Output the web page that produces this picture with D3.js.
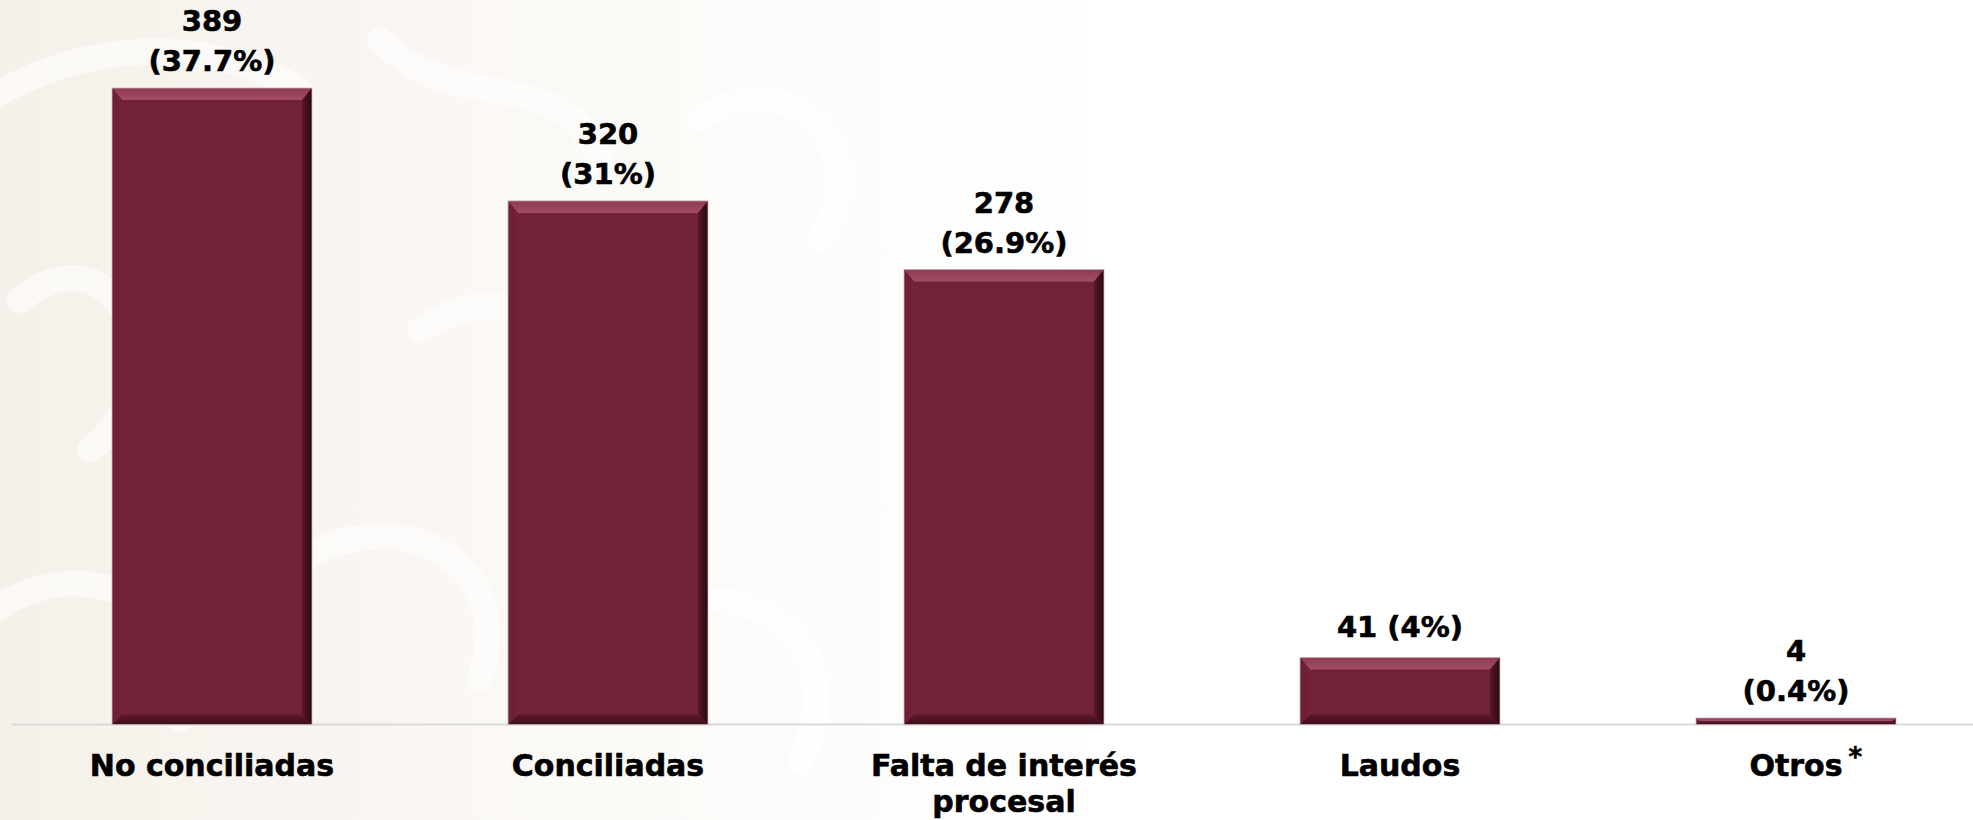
<!DOCTYPE html>
<html>
<head>
<meta charset="utf-8">
<script src="https://cdn.jsdelivr.net/npm/d3@7"></script>
<style>
  html, body { margin: 0; padding: 0; background: #ffffff; }
  svg { display: block; }
  text { font-family: "DejaVu Sans", sans-serif; font-weight: bold; fill: #000; stroke: #000; stroke-width: 0.6px; }
</style>
</head>
<body>
<script>
// ---- data ----
const categories = ["No conciliadas", "Conciliadas", "Falta de interés procesal", "Laudos", "Otros"];
const categoryLines = [["No conciliadas"], ["Conciliadas"], ["Falta de interés", "procesal"], ["Laudos"], ["Otros"]];
const categoryMarks = ["", "", "", "", "*"];
const values = [389, 320, 278, 41, 4];
const pctLabels = ["37.7%", "31%", "26.9%", "4%", "0.4%"];
const singleLineLabel = [false, false, false, true, false];

// ---- layout ----
const W = 1973, H = 820;
const baseY = 724.5, topY = 88;

const svg = d3.select("body").append("svg").attr("width", W).attr("height", H);
const defs = svg.append("defs");

// faint watermark-like background on the left
const bg = defs.append("linearGradient").attr("id", "bgGrad").attr("x1", 0).attr("x2", 1).attr("y1", 0).attr("y2", 0);
bg.append("stop").attr("offset", "0%").attr("stop-color", "#f5f0e9");
bg.append("stop").attr("offset", "50%").attr("stop-color", "#fbf9f6");
bg.append("stop").attr("offset", "100%").attr("stop-color", "#ffffff");
svg.append("rect").attr("x", 0).attr("y", 0).attr("width", 1100).attr("height", H).attr("fill", "url(#bgGrad)");
const wm = svg.append("g").attr("fill", "none").attr("stroke", "#ffffff").attr("stroke-opacity", 0.55).attr("stroke-linecap", "round");
[
  "M -40 120 C 60 40, 200 30, 300 90",
  "M 20 300 C 120 220, 180 380, 90 450",
  "M -20 620 C 80 540, 200 600, 180 720",
  "M 380 40 C 460 120, 560 60, 600 160",
  "M 420 330 C 520 260, 640 360, 560 460",
  "M 300 560 C 400 500, 520 560, 480 680",
  "M 700 120 C 780 60, 880 140, 820 240",
  "M 640 620 C 740 560, 860 640, 800 760"
].forEach(d => wm.append("path").attr("d", d).attr("stroke-width", 26));

// scales
const x = d3.scaleBand().domain(categories).range([14, 1994]).paddingInner(0.495).paddingOuter(0.2475);
const y = d3.scaleLinear().domain([0, d3.max(values)]).range([baseY, topY]);

// axis baseline
const axis = svg.append("g").attr("transform", `translate(0,${baseY})`)
  .call(d3.axisBottom(x).tickSize(0).tickFormat(""));
axis.select(".domain").attr("d", `M12,0H${W}`).attr("stroke", "#d9d9d9").attr("stroke-width", 2);

// gradients for bevels
function grad(id, x1, y1, x2, y2, c1, c2) {
  const g = defs.append("linearGradient").attr("id", id).attr("x1", x1).attr("y1", y1).attr("x2", x2).attr("y2", y2);
  g.append("stop").attr("offset", "0%").attr("stop-color", c1);
  g.append("stop").attr("offset", "100%").attr("stop-color", c2);
}
grad("gTop", 0, 0, 0, 1, "#8e3a52", "#a34d66");
grad("gRight", 0, 0, 1, 0, "#5a1628", "#2a0810");
grad("gBottom", 0, 0, 0, 1, "#5e1829", "#3e0e1a");
grad("gLeft", 0, 0, 1, 0, "#6c1e33", "#732238");

const fill = "#722238";
const bars = svg.append("g");
categories.forEach((c, i) => {
  const x0 = x(c), w = x.bandwidth();
  const y0 = y(values[i]), h = baseY - y0;
  const b = Math.min(12, h / 2), bs = Math.min(10, h / 2);
  const g = bars.append("g");
  g.append("rect").attr("x", x0).attr("y", y0).attr("width", w).attr("height", h).attr("fill", fill);
  g.append("path").attr("d", `M${x0},${y0}L${x0 + w},${y0}L${x0 + w - bs},${y0 + b}L${x0 + bs},${y0 + b}Z`).attr("fill", "url(#gTop)");
  g.append("path").attr("d", `M${x0 + w},${y0}L${x0 + w},${y0 + h}L${x0 + w - bs},${y0 + h - bs}L${x0 + w - bs},${y0 + b}Z`).attr("fill", "url(#gRight)");
  g.append("path").attr("d", `M${x0},${y0 + h}L${x0 + w},${y0 + h}L${x0 + w - bs},${y0 + h - bs}L${x0 + bs},${y0 + h - bs}Z`).attr("fill", "url(#gBottom)");
  g.append("path").attr("d", `M${x0},${y0}L${x0 + bs},${y0 + b}L${x0 + bs},${y0 + h - bs}L${x0},${y0 + h}Z`).attr("fill", "url(#gLeft)");
  g.append("rect").attr("x", x0).attr("y", y0).attr("width", w).attr("height", h)
    .attr("fill", "none").attr("stroke", "#c9b9bd").attr("stroke-width", 0.8);
});

// value labels
const labels = svg.append("g").attr("text-anchor", "middle").style("font-size", "29px");
categories.forEach((c, i) => {
  const cx = x(c) + x.bandwidth() / 2;
  const yt = y(values[i]);
  if (singleLineLabel[i]) {
    labels.append("text").attr("x", cx).attr("y", yt - 20).text(`${values[i]} (${pctLabels[i]})`);
  } else {
    labels.append("text").attr("x", cx).attr("y", yt - 57).text(values[i]);
    labels.append("text").attr("x", cx).attr("y", yt - 17).text(`(${pctLabels[i]})`);
  }
});

// category labels
const cats = svg.append("g").attr("text-anchor", "middle").style("font-size", "30px");
categories.forEach((c, i) => {
  const cx = x(c) + x.bandwidth() / 2;
  let last = null;
  categoryLines[i].forEach((ln, j) => {
    last = cats.append("text").attr("x", cx).attr("y", 776 + j * 36).text(ln);
  });
  if (categoryMarks[i]) {
    const tw = last.node().getComputedTextLength();
    cats.append("text").attr("text-anchor", "start")
      .attr("x", cx + tw / 2 + 6).attr("y", 766).style("font-size", "26px").text(categoryMarks[i]);
  }
});
</script>
</body>
</html>
